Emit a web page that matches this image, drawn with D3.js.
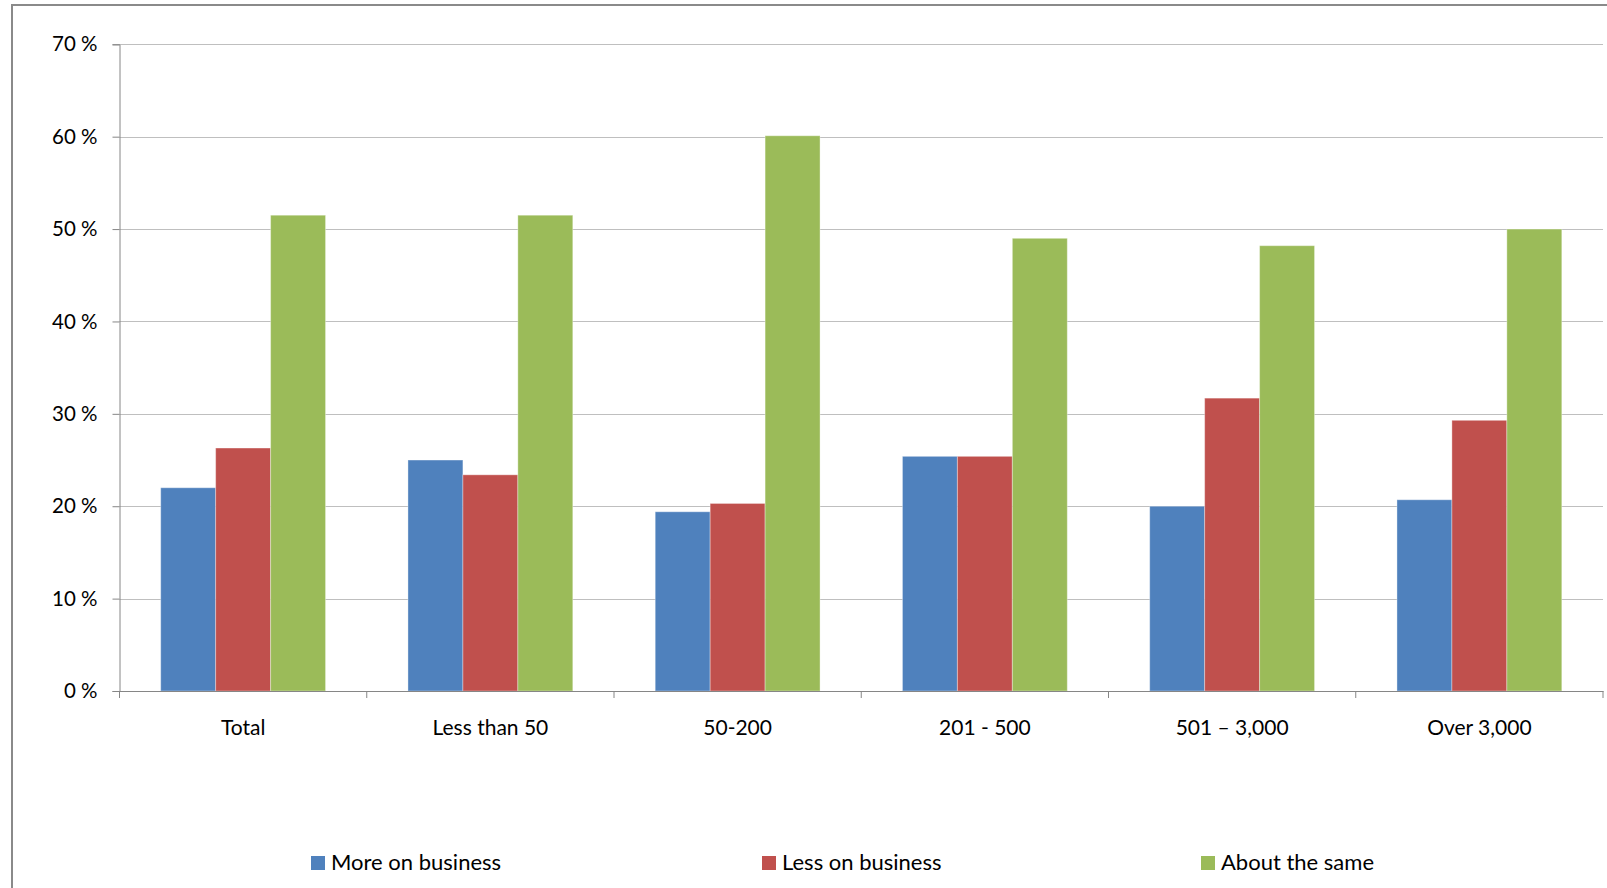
<!DOCTYPE html>
<html>
<head>
<meta charset="utf-8">
<script src="https://cdnjs.cloudflare.com/ajax/libs/d3/7.8.5/d3.min.js"></script>
<style>
  html, body { margin: 0; padding: 0; background: #fff; }
  svg { display: block; font-family: Lato, "Open Sans", sans-serif; }
</style>
</head>
<body>
<svg id="chart" width="1607" height="888"></svg>
<script>
const categories = ["Total", "Less than 50", "50-200", "201 - 500", "501 \u2013 3,000", "Over 3,000"];
const seriesNames = ["More on business", "Less on business", "About the same"];
const moreOnBusiness = [22.0, 25.0, 19.4, 25.4, 20.0, 20.7];
const lessOnBusiness = [26.3, 23.4, 20.3, 25.4, 31.7, 29.3];
const aboutTheSame = [51.5, 51.5, 60.1, 49.0, 48.2, 50.0];
const yTicks = [0, 10, 20, 30, 40, 50, 60, 70];
const colors = ["#4F81BD", "#C0504D", "#9BBB59"];

const seriesValues = [moreOnBusiness, lessOnBusiness, aboutTheSame];

(function () {
const svg = d3.select("#chart");

// outer frame
svg.append("rect")
  .attr("x", 12).attr("y", 5)
  .attr("width", 1700).attr("height", 1000)
  .attr("fill", "none").attr("stroke", "#8a8a8a").attr("stroke-width", 2);

const pLeft = 119.5, pRight = 1603, pTop = 44.3, pBottom = 691;

const y = d3.scaleLinear().domain([0, 70]).range([pBottom, pTop]);
const x0 = d3.scaleBand().domain(categories).range([pLeft, pRight]).paddingInner(0).paddingOuter(0);
const x1 = d3.scaleBand().domain(seriesNames).range([0, x0.bandwidth()]).paddingInner(0).paddingOuter(0.75);

// gridlines
svg.append("g").selectAll("line").data(yTicks.filter(d => d > 0)).join("line")
  .attr("x1", pLeft).attr("x2", pRight)
  .attr("y1", d => Math.round(y(d)) + 0.5).attr("y2", d => Math.round(y(d)) + 0.5)
  .attr("stroke", "#bfbfbf").attr("stroke-width", 1);

// bars
const groups = svg.append("g").selectAll("g").data(categories).join("g")
  .attr("transform", d => `translate(${x0(d)},0)`);

groups.selectAll("rect")
  .data((c, i) => seriesNames.map((s, j) => ({ s, j, v: seriesValues[j][i] })))
  .join("rect")
  .attr("x", d => x1(d.s))
  .attr("width", x1.bandwidth())
  .attr("y", d => y(d.v))
  .attr("height", d => y(0) - y(d.v))
  .attr("fill", d => colors[d.j])
  .attr("stroke", "rgba(255,255,255,0.35)")
  .attr("stroke-width", 1);

// y axis
const yAxis = d3.axisLeft(y).tickValues(yTicks).tickSize(7).tickPadding(15)
  .tickFormat(d => d + " %");
const gy = svg.append("g").attr("transform", `translate(${pLeft},0)`).call(yAxis);
gy.select(".domain").attr("stroke", "#868686");
gy.selectAll(".tick line").attr("stroke", "#868686");
gy.selectAll(".tick text").attr("font-size", 20.5).attr("fill", "#000")
  .attr("font-family", "Lato, 'Open Sans', sans-serif");

// x axis
const xAxis = d3.axisBottom(x0).tickSize(0).tickPadding(29);
const gx = svg.append("g").attr("transform", `translate(0,${pBottom})`).call(xAxis);
gx.select(".domain").attr("stroke", "#868686");
gx.selectAll(".tick text").attr("font-size", 21).attr("fill", "#000")
  .attr("font-family", "Lato, 'Open Sans', sans-serif");
const bounds = categories.map(c => x0(c)).concat([pRight]);
gx.append("g").selectAll("line").data(bounds).join("line")
  .attr("x1", d => d).attr("x2", d => d)
  .attr("y1", 0).attr("y2", 7)
  .attr("stroke", "#868686");

// legend
const legendX = [311, 762, 1201];
const leg = svg.append("g").selectAll("g").data(seriesNames).join("g")
  .attr("transform", (d, i) => `translate(${legendX[i]},856)`);
leg.append("rect").attr("width", 14).attr("height", 14).attr("fill", (d, i) => colors[i]);
leg.append("text").attr("x", 20).attr("y", 14)
  .attr("font-size", 22).attr("fill", "#000")
  .text(d => d);
})();
</script>
</body>
</html>
